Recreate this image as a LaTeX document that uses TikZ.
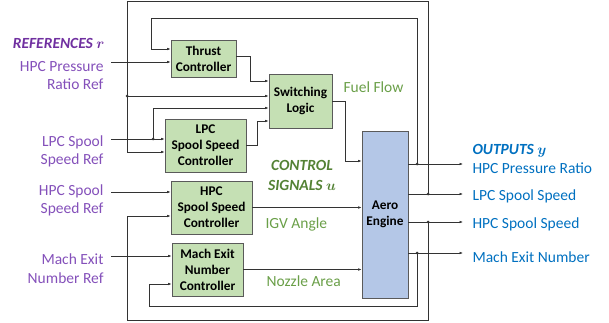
\documentclass[tikz,border=0pt]{standalone}
\usepackage{fontspec}
\setmainfont{Carlito}
\usepackage{tikz}
\usetikzlibrary{arrows.meta}
\definecolor{ctrlgreen}{HTML}{C5E0B4}
\definecolor{engblue}{HTML}{B4C7E7}
\definecolor{boxgray}{HTML}{5A5A5A}
\definecolor{wirecol}{HTML}{333333}
\definecolor{refpurple}{HTML}{7030A0}
\definecolor{reflight}{HTML}{8450BA}
\definecolor{outblue}{HTML}{0070C0}
\definecolor{sigtext}{HTML}{6A9F48}
\definecolor{sigdark}{HTML}{548235}
\newcommand{\lblfont}{\fontsize{15.5}{17.5}\selectfont}

\begin{document}
\begin{tikzpicture}[x=1pt, y=-1pt,
    ctrl/.style={draw=boxgray, line width=0.8pt, fill=#1, align=center, inner sep=1pt,
                 font=\bfseries\fontsize{13.3}{16}\selectfont},
    ctrl/.default=ctrlgreen,
    sig/.style={-{Latex[length=3.5pt, width=2.6pt]}, line width=0.6pt, draw=wirecol},
    reflbl/.style={anchor=east, align=right, text=reflight, font=\lblfont},
    outlbl/.style={anchor=west, text=outblue, font=\lblfont},
    siglbl/.style={anchor=west, text=sigtext, font=\lblfont},
]
    \useasboundingbox (0,0) rectangle (609,323);

    % blocks
    \node[ctrl, minimum width=65, minimum height=37] (thrust) at (203.5,58.5) {Thrust\\Controller};
    \node[ctrl, minimum width=63, minimum height=54] (switch) at (300.5,101) {Switching\\Logic};
    \node[ctrl, minimum width=81, minimum height=53] (lpc) at (205.5,145.5) {LPC\\Spool Speed\\Controller};
    \node[ctrl, minimum width=81, minimum height=53] (hpc) at (211.5,207.5) {HPC\\Spool Speed\\Controller};
    \node[ctrl, minimum width=71, minimum height=53] (mach) at (207.5,269.5) {Mach Exit\\Number\\Controller};
    \node[ctrl=engblue, minimum width=46, minimum height=167] (engine) at (385,214.5) {Aero\\Engine};

    % free ends and junctions
    \coordinate (r1) at (111,62);
    \coordinate (r2) at (111,139);
    \coordinate (r3) at (111,192);
    \coordinate (r4) at (111,256);
    \coordinate (y1) at (463,164);
    \coordinate (y2) at (463,194);
    \coordinate (y3) at (463,222);
    \coordinate (y4) at (463,253);
    \coordinate (j1) at (417,164);
    \coordinate (j2) at (428,194);
    \coordinate (j3) at (428,222);
    \coordinate (j4) at (417,253);
    \coordinate (j5) at (127,96);
    \coordinate (j6) at (153,139);

    % references in
    \draw[sig] (r1) -- (r1 -| thrust.west);
    \draw[sig] (r2) -- (r2 -| lpc.west);
    \draw[sig] (r3) -- (r3 -| hpc.west);
    \draw[sig] (r4) -- (r4 -| mach.west);

    % into switching logic
    \draw[sig] (thrust.east |- 0,56) -| (250,81) -- (switch.west |- 0,81);
    \draw[sig] (j5) -- (switch.west |- j5);
    \draw[sig] (j6) |- (switch.west |- 0,108);
    \draw[sig] (lpc.east) -| (257,121) -- (switch.west |- 0,121);

    % control signals
    \draw[sig] (switch.east) -| (345,161) -- (engine.west |- 0,161);
    \draw[sig] (hpc.east) -- (engine.west |- hpc.east);
    \draw[sig] (mach.east) -- (engine.west |- mach.east);

    % outputs
    \foreach \y in {y1,y2,y3,y4}
        \draw[sig] (engine.east |- \y) -- (\y);

    % feedback loops
    \draw[sig] (j1) -- (417,18) -| (151,49) -- (thrust.west |- 0,49);
    \draw[sig] (j2) -- (428,1.5) -| (127,152) -- (lpc.west |- 0,152);
    \draw[sig] (j3) -- (428,320) -| (127,216) -- (hpc.west |- 0,216);
    \draw[sig] (j4) -- (417,306) -| (149,284) -- (mach.west |- 0,284);

    \foreach \j in {j1,j2,j3,j4,j5,j6}
        \fill[wirecol] (\j) circle (1.5);

    % labels
    \node[reflbl, text=refpurple, font=\lblfont\bfseries\itshape] (reftitle) at (108,43) {REFERENCES {\boldmath$r$}};
    \node[reflbl] (ref1) at (107,75.5) {HPC Pressure\\Ratio Ref};
    \node[reflbl] (ref2) at (107,151.5) {LPC Spool\\Speed Ref};
    \node[reflbl] (ref3) at (107,200.5) {HPC Spool\\Speed Ref};
    \node[reflbl, font=\fontsize{15.5}{19}\selectfont] (ref4) at (107,268.5) {Mach Exit\\Number Ref};

    \node[outlbl, font=\lblfont\bfseries\itshape] (outtitle) at (469,151) {OUTPUTS {\boldmath$y$}};
    \node[outlbl] (out1) at (469,168) {HPC Pressure Ratio};
    \node[outlbl] (out2) at (469,196) {LPC Spool Speed};
    \node[outlbl] (out3) at (469,224) {HPC Spool Speed};
    \node[outlbl] (out4) at (469,257) {Mach Exit Number};

    \node[siglbl, text=sigdark, align=center, anchor=center, font=\fontsize{15.5}{20}\selectfont\bfseries\itshape]
        (ctrltitle) at (302,175) {CONTROL\\SIGNALS {\boldmath$u$}};
    \node[siglbl] (fuel) at (340,87) {Fuel Flow};
    \node[siglbl] (igv) at (262,224) {IGV Angle};
    \node[siglbl] (nozzle) at (263,281) {Nozzle Area};
\end{tikzpicture}
\end{document}
